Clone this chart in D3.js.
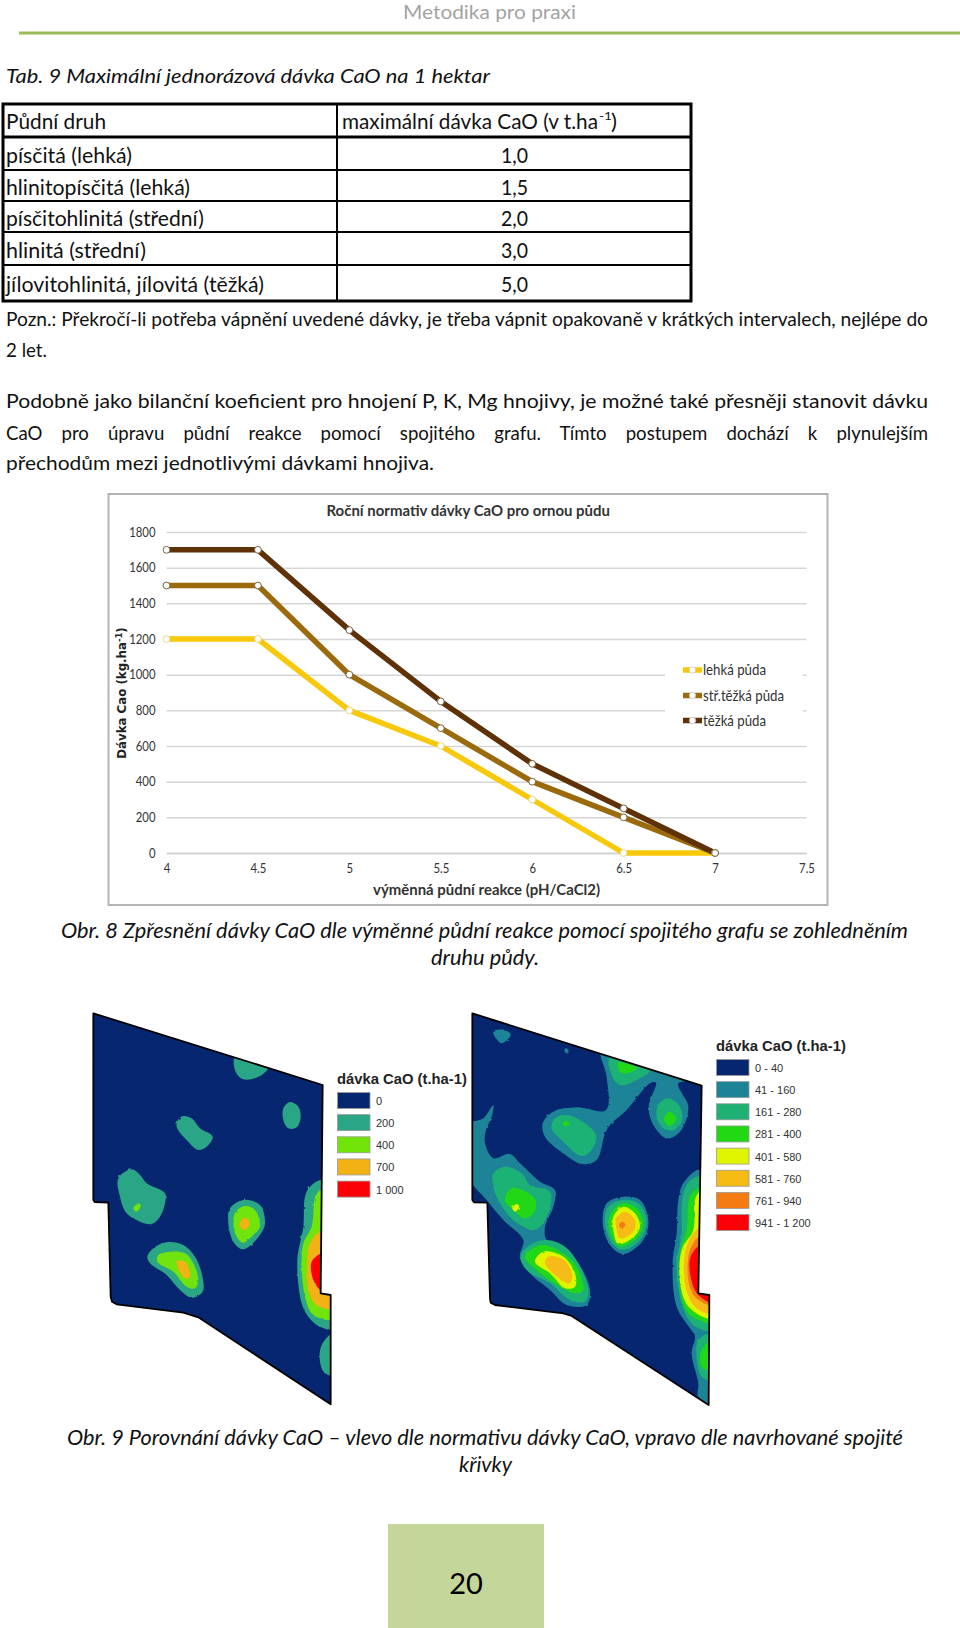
<!DOCTYPE html>
<html><head><meta charset="utf-8">
<script src="https://cdn.jsdelivr.net/npm/d3@7"></script>
<style>html,body{margin:0;padding:0;background:#fff}svg{display:block}</style></head>
<body><svg id="page" width="960" height="1628"></svg>
<script>
// ---------- chart data ----------
const phValues=[4,4.5,5,5.5,6,6.5,7];
const lehka=[1200,1200,800,600,300,0,0];
const stredni=[1500,1500,1000,700,400,200,0];
const tezka=[1700,1700,1250,850,500,250,0];
const seriesNames=["lehká půda","stř.těžká půda","těžká půda"];
const seriesColors=["#f8c80a","#9a6a0c","#5e3206"];
const xTicks=[4,4.5,5,5.5,6,6.5,7,7.5];
const yTicks=[0,200,400,600,800,1000,1200,1400,1600,1800];
// ---------- table ----------
const tableHead=["Půdní druh","maximální dávka CaO (v t.ha"];
const soilTypes=["písčitá (lehká)","hlinitopísčitá (lehká)","písčitohlinitá (střední)","hlinitá (střední)","jílovitohlinitá, jílovitá (těžká)"];
const maxDose=["1,0","1,5","2,0","3,0","5,0"];
// ---------- map legends ----------
const leftLegend=["0","200","400","700","1 000"];
const leftColors=["#06276f","#2aa585","#72e40a","#f2b215","#fb0006"];
const rightLegend=["0 - 40","41 - 160","161 - 280","281 - 400","401 - 580","581 - 760","761 - 940","941 - 1 200"];
const rightColors=["#06276f","#1c8496","#1fb174","#22d812","#dff500","#f6bb13","#f47a12","#fb0006"];
// ---------- map geometry, in map units ----------
const leftOutline=[[70,40],[758,255],[752,880],[782,885],[782,1213],[385,952],[340,938],[140,913],[126,905],[122,890],[115,608],[74,606],[70,600]];
const rightOutline=[[67,40],[755,257],[745,880],[778,885],[776,1215],[365,948],[340,940],[135,915],[122,908],[120,895],[112,608],[72,607],[67,600]];
const leftZone1=[
[[495,172],[595,200],[570,228],[520,238],[497,215]],
[[660,306],[685,320],[692,350],[680,382],[655,385],[640,360],[640,325]],
[[340,348],[365,355],[390,385],[428,410],[410,440],[385,450],[350,420],[320,380],[325,358]],
[[185,508],[210,525],[230,550],[285,580],[285,610],[270,650],[245,672],[210,665],[170,640],[150,590],[145,535]],
[[520,600],[570,615],[585,670],[570,705],[520,748],[490,725],[475,670],[480,625]],
[[290,727],[340,735],[375,770],[395,820],[398,875],[365,893],[330,870],[290,825],[240,790],[232,770],[250,745]],
[[760,540],[800,700],[800,985],[750,980],[715,950],[695,910],[682,780],[700,680],[705,590],[720,560]],
[[790,1000],[755,1035],[750,1085],[765,1120],[790,1125]]];
const leftZone2=[
[[205,610],[213,618],[198,635],[190,625]],
[[525,618],[555,630],[570,680],[555,700],[520,728],[500,710],[490,670],[497,635]],
[[300,755],[345,760],[370,790],[385,840],[375,865],[350,860],[310,815],[262,785],[265,765]],
[[760,570],[800,700],[800,955],[750,955],[725,940],[705,890],[695,800],[700,730],[725,680],[738,585]]];
const leftZone3=[
[[525,652],[540,670],[525,690],[508,675]],
[[320,785],[345,785],[360,830],[345,835]],
[[760,690],[800,800],[800,925],[740,915],[715,870],[712,800],[720,730]]];
const leftZone4=[[[760,760],[775,820],[760,880],[748,868],[730,840],[725,785]]];
const rightZone1=[
[[130,95],[165,90],[182,105],[155,130],[140,118]],
[[348,145],[358,155],[350,160],[343,152]],
[[455,150],[470,230],[468,330],[380,322],[310,335],[278,370],[285,410],[340,460],[395,492],[440,480],[465,400],[480,375],[530,330],[600,250],[618,248],[596,320],[610,375],[650,415],[690,395],[715,320],[685,250],[760,240],[600,150]],
[[55,375],[100,355],[130,315],[125,350],[108,390],[105,430],[130,475],[180,462],[210,490],[270,545],[315,570],[310,620],[285,680],[290,720],[340,745],[385,790],[420,870],[410,915],[350,915],[300,870],[240,820],[210,770],[220,720],[160,660],[110,600],[55,530]],
[[520,590],[570,600],[595,660],[580,720],[520,762],[480,735],[458,670],[470,610]],
[[750,510],[700,550],[685,600],[680,700],[668,790],[680,920],[720,985],[735,1010],[725,1060],[745,1150],[745,1190],[790,1230],[800,885]]];
const rightZone2=[
[[480,170],[600,210],[560,240],[510,255],[485,225]],
[[655,295],[690,320],[695,365],[665,392],[640,385],[620,350],[625,315]],
[[345,345],[380,355],[438,405],[425,450],[395,468],[340,425],[305,385],[315,355]],
[[165,500],[215,520],[240,555],[300,575],[300,625],[270,680],[245,690],[190,660],[150,610],[130,560],[130,520]],
[[290,720],[345,740],[385,790],[415,870],[405,905],[360,900],[300,850],[230,810],[212,770],[240,735]],
[[520,600],[565,610],[590,660],[570,720],[520,750],[490,735],[465,670],[475,620]],
[[750,530],[710,555],[695,620],[695,700],[680,790],[695,910],[730,975],[790,990],[800,800]],
[[790,1000],[745,1020],[740,1075],[755,1130],[790,1140]]];
const rightZone3=[
[[505,188],[560,205],[530,220],[510,215]],
[[658,335],[680,355],[660,378],[642,358]],
[[345,362],[358,368],[348,380],[338,370]],
[[185,565],[235,580],[258,605],[250,640],[225,655],[190,630],[165,600]],
[[280,735],[340,760],[380,800],[400,870],[380,880],[330,860],[260,810],[225,770],[250,745]],
[[520,610],[560,625],[580,670],[560,715],[510,740],[490,720],[475,670],[490,630]],
[[750,565],[720,590],[710,690],[690,760],[690,860],[715,940],[790,965],[800,800]],
[[790,1020],[755,1050],[755,1100],[790,1110]]];
const rightZone4=[
[[200,612],[208,620],[195,635],[187,625]],
[[280,755],[340,770],[375,820],[375,860],[345,865],[300,820],[255,785]],
[[520,620],[555,640],[570,680],[550,712],[505,732],[490,690],[490,650]],
[[750,575],[735,600],[730,690],[695,750],[692,860],[720,925],[790,955],[800,800]]];
const rightZone5=[
[[295,770],[340,778],[365,820],[360,850],[335,840],[285,790]],
[[525,635],[555,660],[550,695],[510,715],[500,690],[498,655]],
[[750,685],[715,725],[702,790],[712,880],[740,925],[790,940],[800,800]]];
const rightZone6=[
[[518,665],[527,675],[515,685],[507,675]],
[[750,712],[720,750],[715,840],[735,890],[790,915],[800,800]]];
const rightZone7=[[[755,735],[722,770],[722,830],[745,885],[790,908],[800,860]]];

const svg=d3.select("#page");
const body="Lato, 'Open Sans', sans-serif";
function fit(t,x,y,w,size,opt={}){ // text stretched to the measured width in the picture
  const n=svg.append("text").attr("x",x).attr("y",y).attr("font-family",opt.family||body)
    .attr("font-size",size).attr("fill",opt.fill||"#111").text(t);
  if(opt.italic)n.attr("font-style","italic");
  if(opt.bold)n.attr("font-weight","bold");
  if(opt.justify){
    const gaps=t.split(" ").length-1, natural=n.node().getComputedTextLength();
    n.attr("word-spacing",(w-natural)/gaps);
  } else if(w) n.attr("textLength",w).attr("lengthAdjust","spacingAndGlyphs");
  return n;
}
function squeeze(sel,f){sel.each(function(){const l=this.getComputedTextLength();d3.select(this).attr("textLength",l*f).attr("lengthAdjust","spacingAndGlyphs");});}
// header
fit("Metodika pro praxi",403,19,173,18.5,{fill:"#a3a3a3"});
svg.append("rect").attr("x",19).attr("y",31.5).attr("width",941).attr("height",3).attr("fill","#9bbb59");
fit("Tab. 9 Maximální jednorázová dávka CaO na 1 hektar",6,83,484,20,{italic:true});

// table
const rowLines=[137,170,201,232,265], tableBase=[163,195,226,258,292];
const T={x0:2,x1:692,y0:104,y1:301,mid:337};
svg.append("rect").attr("x",T.x0+1).attr("y",T.y0).attr("width",T.x1-T.x0-2).attr("height",T.y1-T.y0).attr("fill","none").attr("stroke","#000").attr("stroke-width",3);
svg.selectAll("line.row").data(rowLines).join("line").attr("x1",T.x0).attr("x2",T.x1).attr("y1",d=>d).attr("y2",d=>d).attr("stroke","#000").attr("stroke-width",(d,i)=>i==0?3:2);
svg.append("line").attr("x1",T.mid).attr("x2",T.mid).attr("y1",T.y0).attr("y2",T.y1).attr("stroke","#000").attr("stroke-width",2);
fit(tableHead[0],6,129,100,20.5);
fit(tableHead[1],342,129,256,20.5);
fit("-1",599,120,13,12);
fit(")",611,129,6,20.5);
const soilW=[126,184,198,140,258];
soilTypes.forEach((s,i)=>fit(s,6,tableBase[i],soilW[i],20.5));
maxDose.forEach((s,i)=>fit(s,501,tableBase[i],27,20.5));
fit("Pozn.: Překročí-li potřeba vápnění uvedené dávky, je třeba vápnit opakovaně v krátkých intervalech, nejlépe do",6,326,922,19);
fit("2 let.",6,357,41,19);
const paraY=[408,440,470];
fit("Podobně jako bilanční koeficient pro hnojení P, K, Mg hnojivy, je možné také přesněji stanovit dávku",6,paraY[0],922,20);
fit("CaO pro úpravu půdní reakce pomocí spojitého grafu. Tímto postupem dochází k plynulejším",6,paraY[1],922,18.6,{justify:true});
fit("přechodům mezi jednotlivými dávkami hnojiva.",6,paraY[2],428,20);

// line chart
const chart=svg.append("g");
chart.append("rect").attr("x",108.5).attr("y",494).attr("width",719).attr("height",411).attr("fill","#fff").attr("stroke","#b4b4b4").attr("stroke-width",2);
const x=d3.scaleLinear().domain([4,7.5]).range([166.5,806.5]);
const y=d3.scaleLinear().domain([0,1800]).range([853,532]);
const cf="Lato,'Open Sans',sans-serif";
const gy=chart.append("g").attr("transform","translate(166.5,0)").call(d3.axisLeft(y).tickValues(yTicks).tickSize(-640).tickFormat(d=>d).tickPadding(11));
gy.select(".domain").remove();
gy.selectAll("line").attr("stroke","#d6d6d6").attr("stroke-width",1.5);
gy.selectAll("text").attr("font-family",cf).attr("font-size",13.5).attr("fill","#333").call(squeeze,.84);
const gx=chart.append("g").attr("transform","translate(0,853)").call(d3.axisBottom(x).tickValues(xTicks).tickSize(0).tickFormat(d=>d).tickPadding(10));
gx.select(".domain").attr("stroke","#cfcfcf").attr("stroke-width",1.5);
gx.selectAll("text").attr("font-family",cf).attr("font-size",13.5).attr("fill","#333").call(squeeze,.84);
chart.append("rect").attr("x",665).attr("y",650).attr("width",138).attr("height",88).attr("fill","#fff");
const allSeries=[lehka,stredni,tezka];
const ln=d3.line().x((d,i)=>x(phValues[i])).y(d=>y(d));
allSeries.forEach((s,k)=>{
  chart.append("path").attr("d",ln(s)).attr("fill","none").attr("stroke",seriesColors[k]).attr("stroke-width",5.5).attr("stroke-linejoin","round");
});
allSeries.forEach((s,k)=>{
  chart.selectAll(null).data(s).join("circle").attr("cx",(d,i)=>x(phValues[i])).attr("cy",d=>y(d)).attr("r",3.4).attr("fill","#fff").attr("stroke",k===0?"#e9d98a":"#7a6440").attr("stroke-width",1);
});
fit("Roční normativ dávky CaO pro ornou půdu",326.5,516,283.5,16,{family:cf,bold:true,fill:"#333"});
fit("výměnná půdní reakce (pH/CaCl2)",373,895,227,16,{family:cf,bold:true,fill:"#333"});
const yt=chart.append("text").attr("transform","translate(125.5,693) rotate(-90)").attr("text-anchor","middle").attr("font-family","'DejaVu Sans',sans-serif").attr("font-weight","bold").attr("font-size",11.8).attr("fill","#222");
yt.append("tspan").text("Dávka Cao (kg.ha");yt.append("tspan").attr("font-size",8.5).attr("dy",-4).text("-1");yt.append("tspan").attr("dy",4).text(")");
const legY=[670,695.5,720.5], legW=[63,81,63];
seriesNames.forEach((n,k)=>{
  chart.append("line").attr("x1",683).attr("x2",702).attr("y1",legY[k]).attr("y2",legY[k]).attr("stroke",seriesColors[k]).attr("stroke-width",5.5);
  chart.append("circle").attr("cx",692.5).attr("cy",legY[k]).attr("r",3.2).attr("fill","#fff").attr("stroke","#bbb").attr("stroke-width",.6);
  fit(n,703,legY[k]+5,legW[k],15,{family:cf,fill:"#333"});
});

fit("Obr. 8 Zpřesnění dávky CaO dle výměnné půdní reakce pomocí spojitého grafu se zohledněním",61,938,847,20.5,{italic:true});
fit("druhu půdy.",431,965,108,20.5,{italic:true});

// maps
const defs=svg.append("defs");
const filt=defs.append("filter").attr("id","rough").attr("x","-5%").attr("y","-5%").attr("width","110%").attr("height","110%");
filt.append("feTurbulence").attr("type","fractalNoise").attr("baseFrequency",.28).attr("numOctaves",1).attr("seed",3).attr("result","n");
filt.append("feDisplacementMap").attr("in","SourceGraphic").attr("in2","n").attr("scale",2.4);
function drawMap(id,ox,outline,zones,colors){
  const sx=d3.scaleLinear().domain([0,420]).range([ox,ox+140]);
  const sy=d3.scaleLinear().domain([0,420]).range([1000,1140]);
  const poly=d3.line().x(d=>sx(d[0])).y(d=>sy(d[1])).curve(d3.curveLinearClosed);
  const blob=d3.line().x(d=>sx(d[0])).y(d=>sy(d[1])).curve(d3.curveCatmullRomClosed.alpha(.5));
  defs.append("clipPath").attr("id",id).append("path").attr("d",poly(outline));
  svg.append("path").attr("d",poly(outline)).attr("fill",colors[0]);
  const g=svg.append("g").attr("clip-path",`url(#${id})`).append("g").attr("filter","url(#rough)");
  zones.forEach((z,k)=>g.selectAll(null).data(z).join("path").attr("d",blob).attr("fill",colors[k+1]));
  svg.append("path").attr("d",poly(outline)).attr("fill","none").attr("stroke","#000").attr("stroke-width",1.8).attr("stroke-linejoin","round");
}
drawMap("mapL",70,leftOutline,[leftZone1,leftZone2,leftZone3,leftZone4],leftColors);
drawMap("mapR",450,rightOutline,[rightZone1,rightZone2,rightZone3,rightZone4,rightZone5,rightZone6,rightZone7],rightColors);
function legend(x0,titleY,y0,labels,colors){
  const g=svg.append("g");
  g.append("text").attr("x",x0).attr("y",titleY).attr("font-family","'Liberation Sans',sans-serif").attr("font-weight","bold").attr("font-size",14.8).attr("fill","#222").text("dávka CaO (t.ha-1)");
  const band=d3.scaleBand().domain(d3.range(labels.length)).range([y0,y0+22.15*labels.length]);
  g.selectAll("rect").data(labels).join("rect").attr("x",x0+.5).attr("y",(d,i)=>band(i)).attr("width",32.5).attr("height",16).attr("fill",(d,i)=>colors[i]).attr("stroke","#999").attr("stroke-width",.8);
  g.selectAll("text.l").data(labels).join("text").attr("class","l").attr("x",x0+39).attr("y",(d,i)=>band(i)+12.5).attr("font-family","'Liberation Sans',sans-serif").attr("font-size",11).attr("fill","#333").text(d=>d);
}
legend(337,1084,1092.5,leftLegend,leftColors);
legend(716,1051,1059.5,rightLegend,rightColors);

fit("Obr. 9 Porovnání dávky CaO – vlevo dle normativu dávky CaO, vpravo dle navrhované spojité",67,1445,836,20.5,{italic:true});
fit("křivky",459,1472,53,20.5,{italic:true});

// page number
svg.append("rect").attr("x",388).attr("y",1524).attr("width",156).attr("height",104).attr("fill","#c5d69b");
svg.append("text").attr("x",466).attr("y",1594).attr("text-anchor","middle").attr("font-family",body).attr("font-size",29).attr("fill","#000").text("20");
</script></body></html>
